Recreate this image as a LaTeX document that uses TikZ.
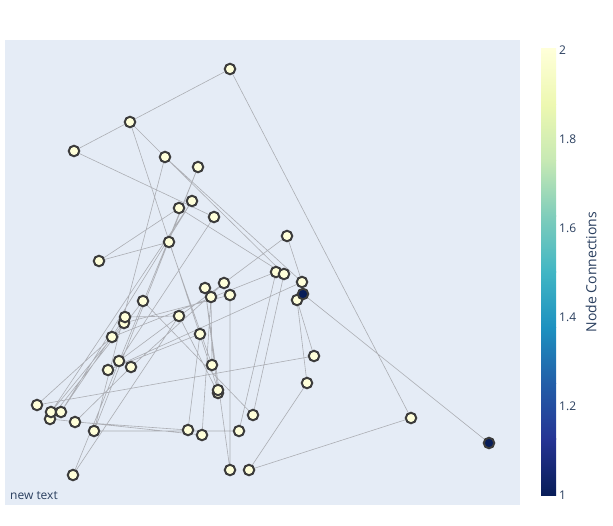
\documentclass[tikz,border=0pt]{standalone}
\usepackage{fontspec}
\setmainfont{Open Sans}
\usetikzlibrary{backgrounds}
\definecolor{bgplot}{RGB}{229,236,246}
\definecolor{ylw}{RGB}{255,255,217}
\definecolor{dkblue}{RGB}{8,29,88}
\definecolor{ndline}{RGB}{60,60,60}
\definecolor{edgec}{RGB}{172,174,180}
\definecolor{txt}{RGB}{42,63,95}
\definecolor{cA}{RGB}{8,29,88}
\definecolor{cB}{RGB}{37,52,148}
\definecolor{cC}{RGB}{34,94,168}
\definecolor{cD}{RGB}{29,145,192}
\definecolor{cE}{RGB}{65,182,196}
\definecolor{cF}{RGB}{127,205,187}
\definecolor{cG}{RGB}{199,233,180}
\definecolor{cH}{RGB}{237,248,177}
\definecolor{cI}{RGB}{255,255,217}
\begin{document}
\begin{tikzpicture}[x=1pt,y=-1pt,
  nd/.style={circle,draw=ndline,line width=2pt,fill=ylw,minimum size=10.5pt,inner sep=0pt},
  nddark/.style={nd,fill=dkblue},
  edge/.style={draw=edgec,line width=0.6pt},
  lbl/.style={text=txt,font=\fontsize{12}{14}\selectfont,inner sep=0pt}]
\useasboundingbox (0,0) rectangle (613,525);
% nodes
\node[nd] (A) at (230,69) {};
\node[nd] (B) at (130,122) {};
\node[nd] (C) at (74,151) {};
\node[nd] (D) at (165,157) {};
\node[nd] (E) at (198,167) {};
\node[nd] (F) at (192,201) {};
\node[nd] (G) at (179,208) {};
\node[nd] (H) at (214,217) {};
\node[nd] (I) at (169,242) {};
\node[nd] (J) at (99,261) {};
\node[nd] (K) at (287,236) {};
\node[nd] (L) at (276,272) {};
\node[nd] (M) at (284,274) {};
\node[nd] (N) at (302,282) {};
\node[nd] (P) at (297,300) {};
\node[nddark] (O) at (303,294) {};
\node[nd] (Q) at (224,283) {};
\node[nd] (R) at (205,288) {};
\node[nd] (S) at (211,297) {};
\node[nd] (T) at (230,295) {};
\node[nd] (U) at (179,316) {};
\node[nd] (V) at (143,301) {};
\node[nd] (X) at (124,323) {};
\node[nd] (W) at (125,317) {};
\node[nd] (Y) at (112,337) {};
\node[nd] (Z) at (200,334) {};
\node[nd] (a) at (119,361) {};
\node[nd] (b) at (131,367) {};
\node[nd] (c) at (108,370) {};
\node[nd] (d) at (212,365) {};
\node[nd] (e2) at (218,393) {};
\node[nd] (e1) at (218,390) {};
\node[nd] (f) at (314,356) {};
\node[nd] (g) at (307,383) {};
\node[nd] (h) at (253,415) {};
\node[nd] (i) at (239,431) {};
\node[nd] (j) at (411,418) {};
\node[nddark] (k) at (489,443) {};
\node[nd] (l) at (249,470) {};
\node[nd] (m) at (188,430) {};
\node[nd] (n) at (202,435) {};
\node[nd] (o) at (230,470) {};
\node[nd] (p) at (37,405) {};
\node[nd] (r) at (50,419) {};
\node[nd] (q) at (51,412) {};
\node[nd] (s) at (61,412) {};
\node[nd] (t) at (75,422) {};
\node[nd] (u) at (94,431) {};
\node[nd] (v) at (73,475) {};
\begin{scope}[on background layer]
\fill[white] (0,0) rectangle (613,525);
\fill[bgplot] (5,40) rectangle (520,505);
\path[edge] (A.center)--(C.center) (A.center)--(j.center) (j.center)--(l.center)
 (l.center)--(g.center) (g.center)--(P.center) (f.center)--(P.center)
 (p.center)--(f.center) (k.center)--(O.center) (B.center)--(e1.center)
 (B.center)--(D.center) (D.center)--(N.center) (D.center)--(u.center)
 (D.center)--(M.center)
 (C.center)--(H.center) (H.center)--(a.center) (E.center)--(u.center)
 (E.center)--(v.center) (G.center)--(J.center) (I.center)--(J.center)
 (G.center)--(M.center) (K.center)--(Q.center) (K.center)--(N.center)
 (h.center)--(M.center) (i.center)--(L.center) (o.center)--(T.center)
 (o.center)--(R.center) (r.center)--(n.center) (t.center)--(m.center)
 (u.center)--(i.center) (V.center)--(h.center) (N.center)--(c.center)
 (F.center)--(s.center) (F.center)--(q.center) (Y.center)--(L.center)
 (v.center)--(U.center) (q.center)--(X.center) (s.center)--(W.center)
 (p.center)--(Y.center) (r.center)--(V.center) (t.center)--(b.center)
 (a.center)--(Q.center) (b.center)--(Q.center) (m.center)--(Z.center)
 (S.center)--(d.center) (R.center)--(e2.center) (T.center)--(X.center)
 (U.center)--(W.center) (e2.center)--(U.center) (n.center)--(S.center)
 (d.center)--(I.center) (Z.center)--(c.center);
\end{scope}
% colorbar
\foreach \ca/\cb [count=\ii from 0] in {cA/cB,cB/cC,cC/cD,cD/cE,cE/cF,cF/cG,cG/cH,cH/cI}{
  \shade[bottom color=\ca,top color=\cb] (541,{495-\ii*55.75}) rectangle (556,{495-(\ii+1)*55.75-0.3});
}
\node[lbl,anchor=west] (t2) at (559,50) {2};
\node[lbl,anchor=west] (t18) at (559,139) {1.8};
\node[lbl,anchor=west] (t16) at (559,228) {1.6};
\node[lbl,anchor=west] (t14) at (559,317) {1.4};
\node[lbl,anchor=west] (t12) at (559,406) {1.2};
\node[lbl,anchor=west] (t1) at (559,495) {1};
\node[lbl,font=\fontsize{14}{16}\selectfont,rotate=90] (title) at (591,272) {Node Connections};
\node[lbl,anchor=west] (nt) at (10,496) {new text};
\end{tikzpicture}
\end{document}
